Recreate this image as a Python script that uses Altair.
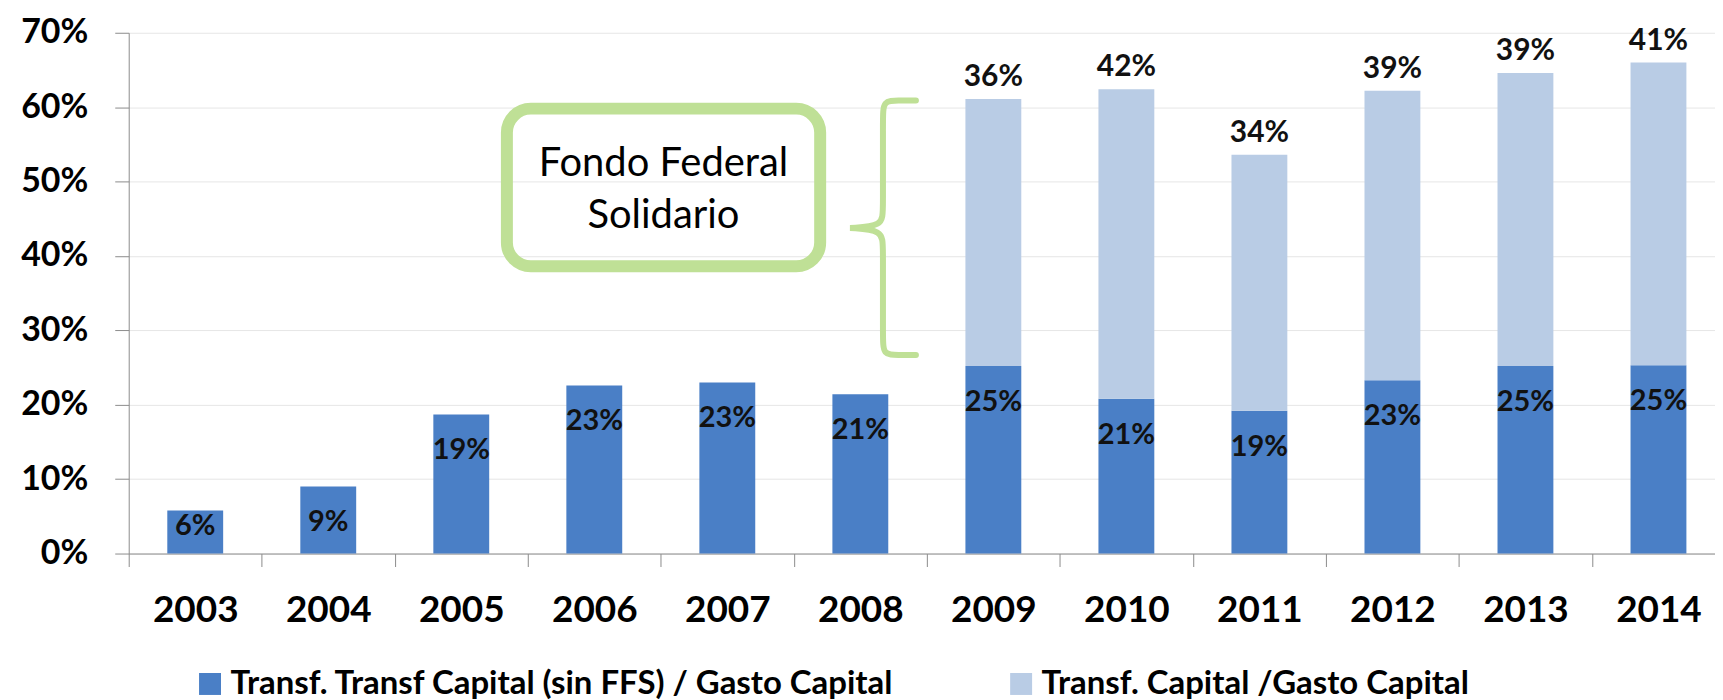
import altair as alt
import pandas as pd

# ---- data ----
years = ["2003", "2004", "2005", "2006", "2007", "2008",
         "2009", "2010", "2011", "2012", "2013", "2014"]
sin_ffs = [5.8, 9.0, 18.7, 22.6, 23.0, 21.4, 25.2, 20.8, 19.2, 23.3, 25.2, 25.3]
ffs_part = [0, 0, 0, 0, 0, 0, 35.9, 41.6, 34.4, 38.9, 39.4, 40.7]
y_ticks = [0, 10, 20, 30, 40, 50, 60, 70]

S1 = "Transf. Transf Capital (sin FFS) / Gasto Capital"
S2 = "Transf. Capital /Gasto Capital"
DARK = "#4a7fc6"
LIGHT = "#b9cce5"
GREEN = "#bfe096"
FONT = "Lato"

long_rows = []
for yr, d, l in zip(years, sin_ffs, ffs_part):
    long_rows.append({"year": yr, "series": S1, "value": d, "ord": 0})
    if l > 0:
        long_rows.append({"year": yr, "series": S2, "value": l, "ord": 1})
long_df = pd.DataFrame(long_rows)
wide_df = pd.DataFrame({"year": years, "dark": sin_ffs, "light": ffs_part})

# annotation (box, text, brace) in band units (0..12) and percent
box_df = pd.DataFrame({"x1": [2.843], "x2": [5.198], "y1": [59.8], "y2": [38.6]})
note_df = pd.DataFrame({"u": [4.02, 4.02], "v": [50.8, 43.7],
                        "t": ["Fondo Federal", "Solidario"]})
brace_u = [5.918, 5.783, 5.670, 5.670, 5.670, 5.670, 5.423, 5.423, 5.423,
           5.670, 5.670, 5.670, 5.670, 5.783, 5.918]
brace_v = [60.88, 60.88, 60.88, 58.47, 46.13, 44.03, 43.76, 43.76, 43.76,
           43.45, 41.30, 29.10, 26.69, 26.69, 26.69]
brace_df = pd.DataFrame({"u": brace_u, "v": brace_v, "i": list(range(len(brace_u)))})

xband = alt.Scale(domain=years, paddingInner=0, paddingOuter=0, range=[0, 1600])
yscale = alt.Scale(domain=[0, 70], nice=False)
ann_x = alt.Scale(domain=[0, 12], range=[0, 1600])

bars = alt.Chart(long_df).mark_bar(width=56).encode(
    x=alt.X("year:N", scale=xband, sort=years, title=None,
            axis=alt.Axis(labelAngle=0, tickBand="extent", grid=False)),
    y=alt.Y("value:Q", stack="zero", scale=yscale, title=None,
            axis=alt.Axis(values=y_ticks, labelExpr="datum.value + '%'")),
    color=alt.Color("series:N",
                    scale=alt.Scale(domain=[S1, S2], range=[DARK, LIGHT]),
                    legend=alt.Legend(orient="none", legendX=65, legendY=636,
                                      direction="horizontal", title=None,
                                      symbolType="square", symbolSize=484,
                                      symbolStrokeWidth=0,
                                      labelFont=FONT, labelFontSize=33,
                                      labelFontWeight="bold", labelColor="black",
                                      columnPadding=110, labelOffset=4,
                                      labelLimit=1000)),
    order=alt.Order("ord:Q"),
)

dark_labels = alt.Chart(wide_df).transform_calculate(
    ly="max(datum.dark, 8.5)",
    lab="format(datum.dark, '.0f') + '%'",
).mark_text(dy=36, fontSize=29, fontWeight="bold", font=FONT,
            color="#111111", baseline="middle").encode(
    x=alt.X("year:N", scale=xband, sort=years, title=None),
    y=alt.Y("ly:Q", scale=yscale, title=None),
    text="lab:N",
)

top_labels = alt.Chart(wide_df).transform_filter("datum.light > 0").transform_calculate(
    tot="datum.dark + datum.light",
    lab="format(datum.light, '.0f') + '%'",
).mark_text(dy=-22, fontSize=30, fontWeight="bold", font=FONT,
            color="#111111", baseline="middle").encode(
    x=alt.X("year:N", scale=xband, sort=years, title=None),
    y=alt.Y("tot:Q", scale=yscale, title=None),
    text="lab:N",
)

main = alt.layer(bars, dark_labels, top_labels)

box = alt.Chart(box_df).mark_rect(fill="transparent", stroke=GREEN,
                                  strokeWidth=12, cornerRadius=24).encode(
    x=alt.X("x1:Q", scale=ann_x, axis=None),
    x2="x2:Q",
    y=alt.Y("y1:Q", scale=yscale, title=None),
    y2="y2:Q",
)

note = alt.Chart(note_df).mark_text(font=FONT, fontSize=40, color="black",
                                    baseline="alphabetic", align="center").encode(
    x=alt.X("u:Q", scale=ann_x, axis=None),
    y=alt.Y("v:Q", scale=yscale, title=None),
    text="t:N",
)

brace = alt.Chart(brace_df).mark_line(interpolate="basis", strokeWidth=6,
                                      color=GREEN, strokeCap="round").encode(
    x=alt.X("u:Q", scale=ann_x, axis=None),
    y=alt.Y("v:Q", scale=yscale, title=None),
    order="i:Q",
)

chart = alt.layer(main, box, note, brace).resolve_scale(x="independent").properties(
    width=1590, height=522,
    padding={"left": 121, "top": 24, "right": 0, "bottom": 146},
    autosize=alt.AutoSizeParams(type="none"),
    background="white",
).configure_view(stroke=None).configure_axisX(
    labelFont=FONT, labelFontSize=37, labelFontWeight="bold", labelColor="black",
    domainColor="#8c8c8c", tickColor="#8c8c8c", tickSize=13, labelPadding=26,
    grid=False,
).configure_axisY(
    labelFont=FONT, labelFontSize=34, labelFontWeight="bold", labelColor="black",
    domainColor="#8c8c8c", tickColor="#8c8c8c", tickSize=14, labelPadding=27,
    gridColor="#e6e6e6", grid=True,
)

chart.save("out.html", embed_options={"renderer": "svg", "actions": False})
